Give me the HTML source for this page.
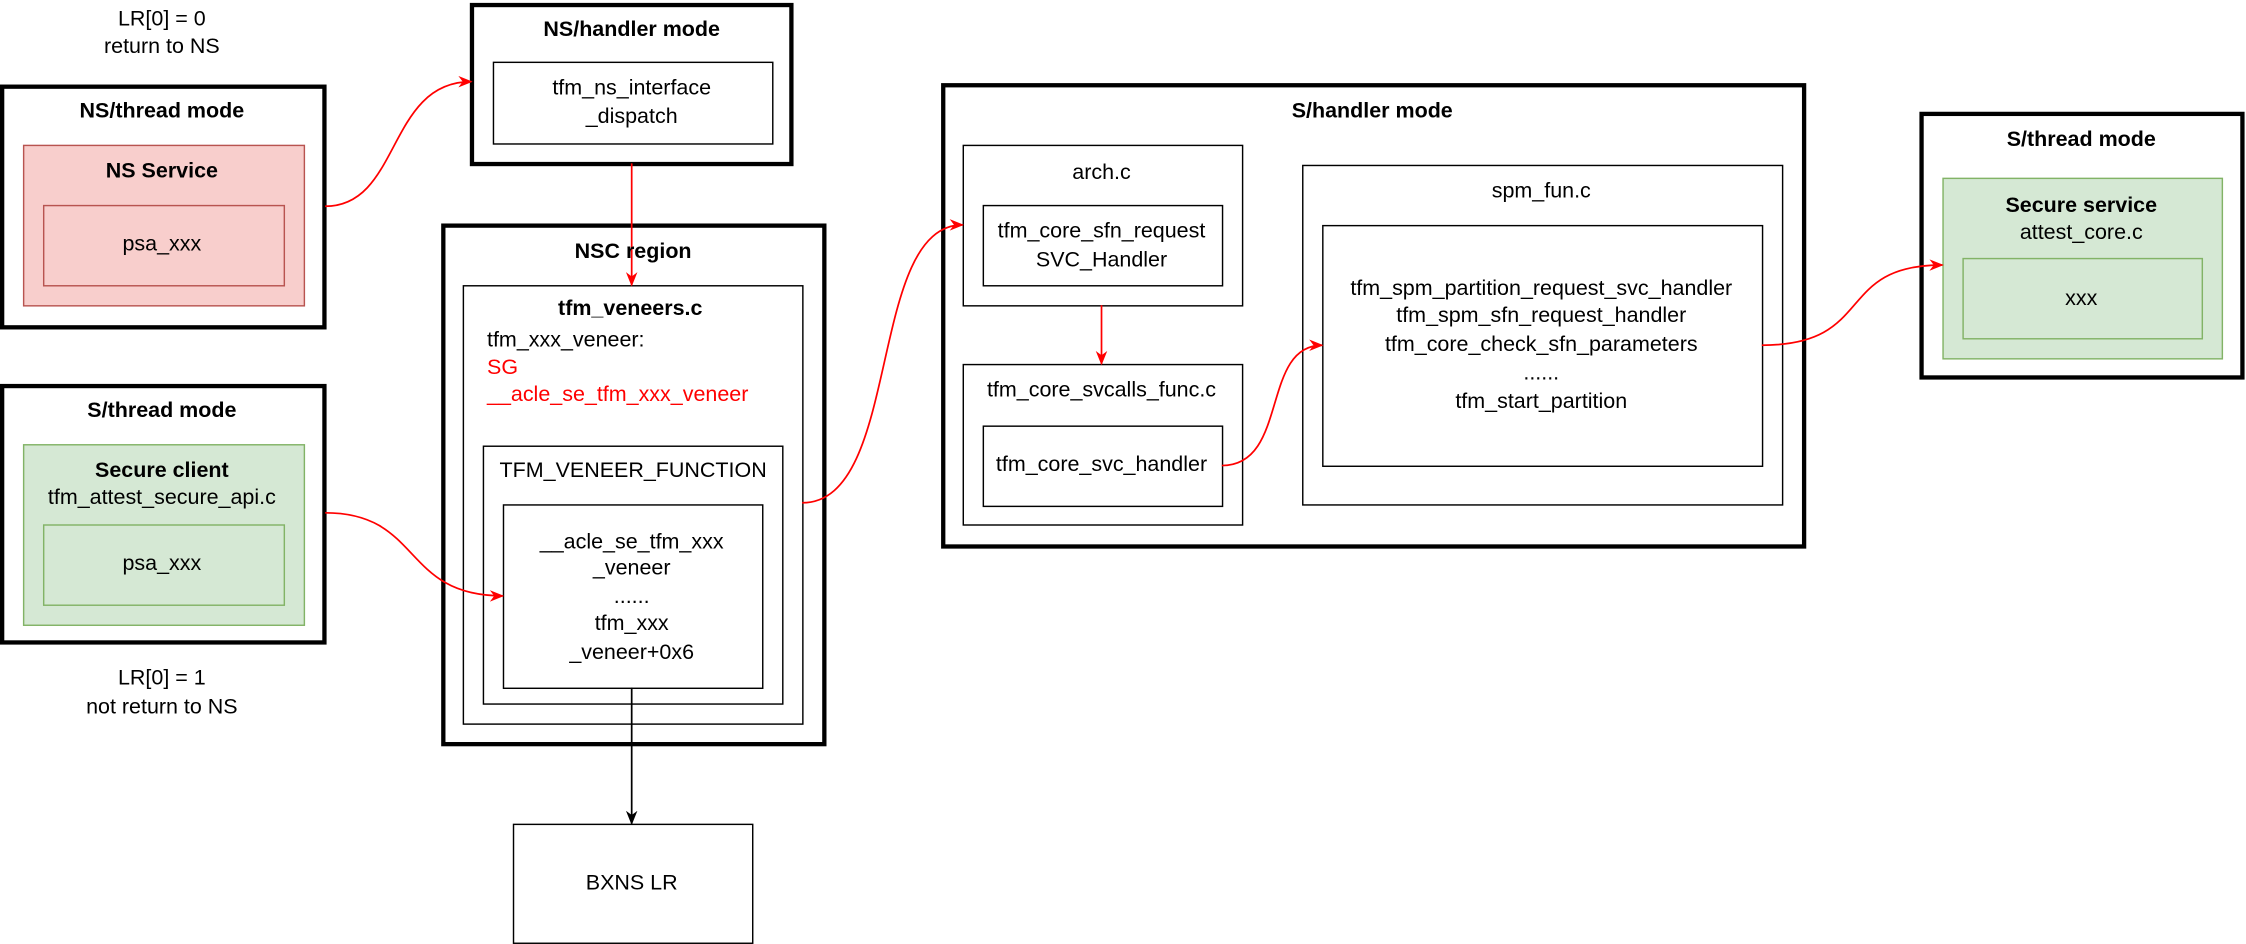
<!DOCTYPE html>
<html><head><meta charset="utf-8"><style>
html,body{margin:0;padding:0;background:#fff;width:2246px;height:944px;overflow:hidden}
svg{display:block}
text{font-family:"Liberation Sans",Arial,sans-serif;font-size:15px;fill:#000;text-anchor:middle;dominant-baseline:middle}
.b{font-weight:bold}
.r{fill:#ff0000}
</style></head><body>
<svg width="2246" height="944" viewBox="0 0 1568 659" xmlns="http://www.w3.org/2000/svg">
<defs>
<marker id="ar" markerWidth="10" markerHeight="10" refX="9" refY="5" orient="auto" markerUnits="userSpaceOnUse"><path d="M0,1 L10,5 L0,9 L3,5 Z" fill="#ff0000"/></marker>
<marker id="ab" markerWidth="10" markerHeight="10" refX="9" refY="5" orient="auto" markerUnits="userSpaceOnUse"><path d="M0,1 L10,5 L0,9 L3,5 Z" fill="#000"/></marker>
</defs>
<g fill="none" stroke="#000">
<!-- NS thread -->
<rect x="1.5" y="60.5" width="225" height="168" stroke-width="3"/>
<rect x="16.5" y="101.5" width="196" height="112" fill="#f8cecc" stroke="#b85450"/>
<rect x="30.5" y="143.5" width="168" height="56" stroke="#b85450"/>
<!-- S thread left -->
<rect x="1.5" y="269.5" width="225" height="179" stroke-width="3"/>
<rect x="16.5" y="310.5" width="196" height="126" fill="#d5e8d4" stroke="#82b366"/>
<rect x="30.5" y="366.5" width="168" height="56" stroke="#82b366"/>
<!-- NS handler -->
<rect x="329.5" y="3.5" width="223" height="111" stroke-width="3"/>
<rect x="344.5" y="43.5" width="195" height="57"/>
<!-- NSC -->
<rect x="309.5" y="157.5" width="266" height="362" stroke-width="3"/>
<rect x="323.5" y="199.5" width="237" height="306"/>
<rect x="337.5" y="311.5" width="209" height="180"/>
<rect x="351.5" y="352.5" width="181" height="128"/>
<!-- BXNS -->
<rect x="358.5" y="575.5" width="167" height="83"/>
<!-- S handler -->
<rect x="658.5" y="59.5" width="601" height="322" stroke-width="3"/>
<rect x="672.5" y="101.5" width="195" height="112"/>
<rect x="686.5" y="143.5" width="167" height="56"/>
<rect x="672.5" y="254.5" width="195" height="112"/>
<rect x="686.5" y="297.5" width="167" height="56"/>
<rect x="909.5" y="115.5" width="335" height="237"/>
<rect x="923.5" y="157.5" width="307" height="168"/>
<!-- S thread right -->
<rect x="1341.5" y="79.5" width="224" height="184" stroke-width="3"/>
<rect x="1356.5" y="124.5" width="195" height="126" fill="#d5e8d4" stroke="#82b366"/>
<rect x="1370.5" y="180.5" width="167" height="56" stroke="#82b366"/>
</g>
<!-- connectors -->
<g fill="none" stroke="#ff0000" stroke-width="1.2">
<path d="M227,144 C280,144 270,57 329,57" marker-end="url(#ar)"/>
<path d="M441,114 L441,199" marker-end="url(#ar)"/>
<path d="M227,358 C295,358 280,416 351,416" marker-end="url(#ar)"/>
<path d="M560,351 C630,351 605,157 672,157" marker-end="url(#ar)"/>
<path d="M769,213 L769,254" marker-end="url(#ar)"/>
<path d="M853,325 C900,325 880,241 923,241" marker-end="url(#ar)"/>
<path d="M1230,241 C1310,241 1280,185 1356,185" marker-end="url(#ar)"/>
</g>
<path d="M441,480 L441,575" stroke="#000" stroke-width="1.2" fill="none" marker-end="url(#ab)"/>
<!-- texts -->
<text x="113" y="14">LR[0] = 0</text>
<text x="113" y="33">return to NS</text>
<text x="113" y="78" class="b">NS/thread mode</text>
<text x="113" y="120" class="b">NS Service</text>
<text x="113" y="171">psa_xxx</text>
<text x="113" y="287" class="b">S/thread mode</text>
<text x="113" y="329" class="b">Secure client</text>
<text x="113" y="348">tfm_attest_secure_api.c</text>
<text x="113" y="394">psa_xxx</text>
<text x="113" y="474">LR[0] = 1</text>
<text x="113" y="494">not return to NS</text>
<text x="441" y="21" class="b">NS/handler mode</text>
<text x="441" y="62">tfm_ns_interface</text>
<text x="441" y="82">_dispatch</text>
<text x="442" y="176" class="b">NSC region</text>
<text x="440" y="216" class="b">tfm_veneers.c</text>
<text x="340" y="238" style="text-anchor:start">tfm_xxx_veneer:</text>
<text x="340" y="257" class="r" style="text-anchor:start">SG</text>
<text x="340" y="276" class="r" style="text-anchor:start">__acle_se_tfm_xxx_veneer</text>
<text x="442" y="329">TFM_VENEER_FUNCTION</text>
<text x="441" y="379">__acle_se_tfm_xxx</text>
<text x="441" y="397">_veneer</text>
<text x="441" y="417">......</text>
<text x="441" y="436">tfm_xxx</text>
<text x="441" y="456">_veneer+0x6</text>
<text x="441" y="617">BXNS LR</text>
<text x="958" y="78" class="b">S/handler mode</text>
<text x="769" y="121">arch.c</text>
<text x="769" y="162">tfm_core_sfn_request</text>
<text x="769" y="182">SVC_Handler</text>
<text x="769" y="273">tfm_core_svcalls_func.c</text>
<text x="769" y="325">tfm_core_svc_handler</text>
<text x="1076" y="134">spm_fun.c</text>
<text x="1076" y="202">tfm_spm_partition_request_svc_handler</text>
<text x="1076" y="221">tfm_spm_sfn_request_handler</text>
<text x="1076" y="241">tfm_core_check_sfn_parameters</text>
<text x="1076" y="261">......</text>
<text x="1076" y="281">tfm_start_partition</text>
<text x="1453" y="98" class="b">S/thread mode</text>
<text x="1453" y="144" class="b">Secure service</text>
<text x="1453" y="163">attest_core.c</text>
<text x="1453" y="209">xxx</text>
</svg>
</body></html>
